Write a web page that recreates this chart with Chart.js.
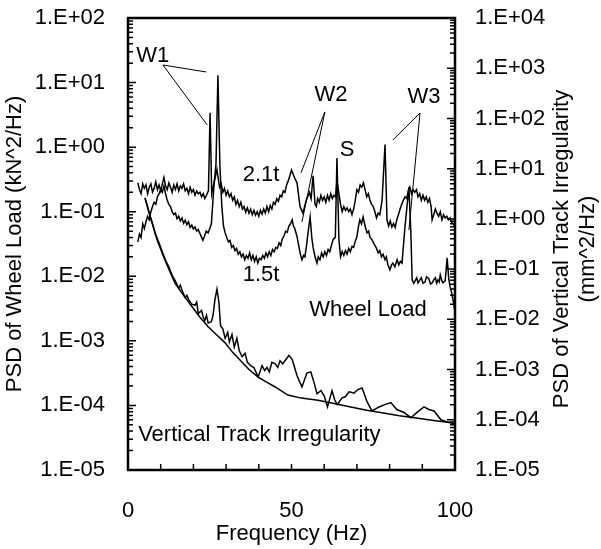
<!DOCTYPE html>
<html>
<head>
<meta charset="utf-8">
<script src="https://cdn.jsdelivr.net/npm/chart.js@4.4.1/dist/chart.umd.min.js"></script>
<style>
  html, body { margin: 0; padding: 0; background: #fff; }
  #wrap { width: 601px; height: 549px; }
</style>
</head>
<body>
<div id="wrap"><canvas id="psdChart"></canvas></div>
<script>
// ---- data, [frequency Hz, PSD] ----
// wheel load PSD, 2.1t axle load (kN^2/Hz, left axis)
const wheel21 = [[3,0.28],[3.5,0.22],[4,0.19],[4.5,0.27],[5,0.23],[5.5,0.26],[6,0.19],[6.5,0.24],[7,0.27],[7.5,0.20],[8,0.23],[8.5,0.29],[9,0.22],[9.5,0.26],[10,0.21],[10.5,0.27],[11,0.34],[11.5,0.25],[12,0.22],[12.5,0.28],[13,0.24],[13.5,0.20],[14,0.26],[14.5,0.22],[15,0.27],[15.5,0.21],[16,0.25],[16.5,0.23],[17,0.27],[17.5,0.21],[18,0.23],[18.5,0.19],[19,0.24],[19.5,0.20],[20,0.22],[20.5,0.18],[21,0.21],[21.5,0.19],[22,0.20],[22.5,0.17],[23,0.19],[23.5,0.16],[24,0.18],[24.6,0.21],[25.1,3.4],[25.6,0.19],[26.3,0.28],[27.2,0.45],[28,0.24],[28.5,0.27],[29,0.20],[29.5,0.23],[30,0.18],[30.5,0.21],[31,0.17],[31.5,0.19],[32,0.15],[32.5,0.17],[33,0.13],[33.5,0.15],[34,0.12],[34.5,0.14],[35,0.11],[35.5,0.12],[36,0.098],[36.5,0.115],[37,0.095],[37.5,0.11],[38,0.09],[38.5,0.105],[39,0.088],[39.5,0.10],[40,0.085],[40.5,0.105],[41,0.092],[41.5,0.11],[42,0.095],[42.5,0.12],[43,0.10],[43.5,0.125],[44,0.11],[44.5,0.14],[45,0.13],[45.5,0.16],[46,0.145],[46.5,0.18],[47,0.17],[47.5,0.21],[48,0.20],[48.5,0.26],[49,0.30],[49.5,0.36],[50,0.44],[50.5,0.38],[51,0.33],[51.7,0.28],[52.6,0.12],[53.5,0.095],[54.5,0.15],[55.5,0.20],[56,0.16],[56.6,0.36],[57.2,0.13],[57.6,0.12],[58,0.16],[58.5,0.14],[59,0.18],[59.5,0.15],[60,0.17],[60.5,0.14],[61,0.18],[61.5,0.15],[62,0.19],[62.5,0.16],[63,0.18],[63.5,0.17],[63.9,0.30],[64.5,0.19],[65,0.13],[65.5,0.10],[66,0.12],[66.5,0.105],[67,0.115],[67.5,0.10],[68,0.11],[68.5,0.09],[69,0.11],[69.5,0.15],[70,0.22],[70.5,0.20],[71,0.26],[71.5,0.24],[72,0.28],[72.5,0.22],[73,0.17],[73.5,0.19],[74,0.15],[74.5,0.13],[75,0.12],[75.5,0.10],[76,0.08],[76.5,0.095],[77,0.09],[77.7,0.15],[78.6,1.1],[79.2,0.075],[79.7,0.06],[80.2,0.072],[80.7,0.058],[81.2,0.066],[81.7,0.057],[82.2,0.075],[82.7,0.09],[83.2,0.11],[83.7,0.13],[84.2,0.15],[84.7,0.17],[85.2,0.16],[85.7,0.21],[86.2,0.24],[86.7,0.19],[87.2,0.22],[87.7,0.20],[88.2,0.22],[88.7,0.17],[89.2,0.19],[89.7,0.15],[90.2,0.18],[90.7,0.15],[91.2,0.17],[91.7,0.14],[92.2,0.16],[92.7,0.12],[93,0.075],[93.5,0.09],[94,0.11],[94.5,0.095],[95,0.085],[95.5,0.10],[96,0.075],[96.5,0.09],[97,0.08],[97.5,0.085],[98,0.075],[98.5,0.08],[99,0.068],[99.5,0.065],[100,0.058]];

// wheel load PSD, 1.5t axle load (kN^2/Hz, left axis)
const wheel15 = [[3,0.034],[3.5,0.045],[4,0.04],[4.5,0.065],[5,0.055],[5.5,0.07],[6,0.085],[6.5,0.075],[7,0.10],[7.5,0.12],[8,0.14],[8.5,0.13],[9,0.17],[9.5,0.19],[10,0.22],[10.5,0.20],[11,0.25],[11.5,0.19],[12,0.15],[12.5,0.13],[13,0.12],[13.5,0.10],[14,0.09],[14.5,0.095],[15,0.078],[15.5,0.085],[16,0.072],[16.5,0.08],[17,0.066],[17.5,0.074],[18,0.063],[18.5,0.07],[19,0.057],[19.5,0.062],[20,0.054],[20.5,0.058],[21,0.05],[21.5,0.053],[22,0.046],[22.5,0.04],[22.9,0.036],[23.4,0.042],[23.9,0.05],[24.5,0.047],[25,0.055],[25.5,0.065],[26.3,0.26],[26.9,0.53],[27.5,13],[28.1,0.53],[28.7,0.12],[29.2,0.06],[29.7,0.047],[30.2,0.04],[30.7,0.034],[31.2,0.036],[31.7,0.028],[32.2,0.03],[32.7,0.025],[33.2,0.027],[33.7,0.022],[34.2,0.024],[34.7,0.02],[35.2,0.022],[35.7,0.018],[36.2,0.021],[36.7,0.019],[37.2,0.023],[37.7,0.018],[38.2,0.021],[38.7,0.017],[39.2,0.02],[39.7,0.016],[40.2,0.019],[40.7,0.018],[41.2,0.021],[41.7,0.019],[42.2,0.023],[42.7,0.02],[43.2,0.024],[43.7,0.021],[44.2,0.026],[44.7,0.024],[45.2,0.028],[45.7,0.027],[46.2,0.033],[46.7,0.03],[47.2,0.038],[47.7,0.042],[48.2,0.05],[48.7,0.048],[49.2,0.06],[49.7,0.065],[50.2,0.075],[50.6,0.06],[51,0.055],[51.7,0.041],[52.2,0.03],[52.7,0.022],[53.2,0.018],[53.7,0.021],[54.1,0.02],[54.6,0.03],[55,0.045],[55.7,0.083],[56.2,0.04],[56.6,0.028],[57.2,0.02],[57.8,0.016],[58.2,0.02],[58.7,0.018],[59.2,0.023],[59.7,0.02],[60.2,0.024],[60.7,0.021],[61.2,0.026],[61.7,0.024],[62.2,0.03],[62.7,0.037],[63.4,0.04],[63.9,0.68],[64.5,0.037],[65,0.02],[65.5,0.024],[66,0.021],[66.5,0.025],[67,0.022],[67.5,0.027],[68,0.024],[68.5,0.029],[69,0.028],[69.5,0.035],[70,0.041],[70.5,0.06],[70.9,0.075],[71.4,0.065],[71.9,0.083],[72.5,0.06],[73.1,0.047],[73.6,0.05],[74,0.04],[74.6,0.037],[75.1,0.033],[75.5,0.03],[76,0.027],[76.5,0.023],[77,0.025],[77.5,0.02],[78,0.022],[78.6,0.018],[79,0.02],[79.5,0.015],[80.1,0.0126],[80.6,0.015],[81,0.016],[81.6,0.014],[82.3,0.018],[82.8,0.015],[83.3,0.017],[83.8,0.016],[84.7,0.058],[85.9,0.24],[86.5,0.047],[86.9,0.0088],[87.4,0.0078],[87.8,0.0085],[88.3,0.0095],[88.7,0.0079],[89.2,0.0087],[89.7,0.0095],[90.2,0.0078],[90.8,0.0081],[91.3,0.0098],[92,0.0092],[92.5,0.0076],[93,0.0079],[93.5,0.0088],[94,0.0095],[94.4,0.0078],[94.8,0.0088],[95.2,0.0082],[95.5,0.0105],[96,0.0085],[96.3,0.0079],[97,0.0085],[97.6,0.0193],[98.1,0.009],[98.5,0.0069],[99,0.0055],[99.4,0.0043],[100,0.0028]];

// vertical track irregularity PSD, fitted curve (mm^2/Hz, right axis)
const trackFit = [[5.2,2.6],[7,1.0],[8.9,0.38],[11.5,0.14],[14.4,0.052],[17,0.03],[19.6,0.0178],[22,0.011],[24.5,0.0071],[27,0.005],[29.7,0.0034],[32,0.0022],[34.9,0.0014],[37,0.001],[39.8,0.00071],[42,0.00058],[45,0.00045],[48.9,0.00031],[53,0.00027],[58.1,0.000245],[63,0.00021],[68.5,0.000178],[73,0.000155],[78.6,0.000135],[83,0.00012],[88.7,0.000107],[94,0.000096],[99.1,0.000087]];

// vertical track irregularity PSD, measured (mm^2/Hz, right axis)
const trackMeas = [[5.2,2.6],[6.5,1.3],[7.5,0.8],[8.5,0.48],[9.5,0.33],[10.5,0.22],[11.5,0.15],[12.5,0.11],[13,0.09],[13.5,0.075],[14.5,0.058],[15.5,0.042],[16,0.048],[16.5,0.038],[17.5,0.027],[18,0.03],[18.5,0.025],[19.5,0.02],[20.5,0.019],[21,0.022],[21.5,0.013],[22.5,0.015],[23,0.011],[23.5,0.0095],[24,0.012],[24.5,0.0085],[25.5,0.009],[26,0.012],[26.6,0.025],[27.2,0.040],[27.8,0.022],[28.3,0.0075],[29,0.0065],[29.7,0.0042],[30.5,0.0055],[31,0.0035],[31.8,0.005],[32.5,0.0028],[33.3,0.0042],[34,0.0024],[34.9,0.0018],[35.8,0.0021],[36.5,0.0014],[37.5,0.0012],[38.5,0.0011],[39.8,0.00071],[41,0.0012],[41.8,0.00095],[42.5,0.0011],[43.2,0.0009],[44,0.0014],[45,0.0013],[45.8,0.0011],[46.5,0.0015],[47.3,0.0013],[48,0.0015],[49.2,0.0019],[50.2,0.0016],[51.7,0.00075],[53.2,0.00045],[54.7,0.00085],[55.9,0.0009],[56.9,0.00055],[57.8,0.00033],[59,0.00038],[60,0.0003],[61,0.00018],[62.4,0.00038],[63.2,0.00025],[64,0.0002],[65.4,0.00027],[66.5,0.00029],[67.6,0.00036],[69.1,0.00034],[70.3,0.0004],[71.6,0.00043],[73.1,0.00023],[74.6,0.00015],[76.8,0.00018],[78.5,0.0002],[80.4,0.00022],[82.2,0.00016],[84.4,0.00014],[86.5,0.00011],[88.4,0.00014],[90.5,0.00018],[92,0.00016],[93.6,0.00015],[95.7,0.0001],[97.6,0.00009],[100,0.000083]];

// axis ticks
const leftTicks = [1e-5,1e-4,1e-3,1e-2,1e-1,1,10,100];
const rightTicks = [1e-5,1e-4,1e-3,1e-2,1e-1,1,10,100,1000,10000];
const xTicks = [0,10,20,30,40,50,60,70,80,90,100];
const xLabels = [0,50,100];

// text labels on the plot: [text, freq, wheel-load value, align]
const notes = [
  ['W1', 7.6, 25.8, 'center'],
  ['W2', 62.1, 6.43, 'center'],
  ['W3', 90.5, 5.98, 'center'],
  ['S', 67.0, 0.906, 'center'],
  ['2.1t', 40.7, 0.372, 'center'],
  ['1.5t', 40.7, 0.0105, 'center'],
  ['Wheel Load', 73.4, 0.0030, 'center'],
  ['Vertical Track Irregularity', 3.1, 3.5e-5, 'left']
];
// leader lines: apex then end points, in (freq, wheel-load value)
const leaders = [
  [[10.7, 18.7], [23.9, 14.6], [24.2, 2.21]],
  [[60.2, 3.51], [52.9, 0.40], [53.2, 0.0695]],
  [[89.3, 3.38], [81.0, 1.29], [85.9, 0.052]]
];

const FONT = 'Liberation Sans, Arial, sans-serif';
const FS = 22;

function sciLabel(v) {
  const e = Math.round(Math.log10(v));
  return '1.E' + (e < 0 ? '-' : '+') + String(Math.abs(e)).padStart(2, '0');
}

function pts(pairs) {
  return pairs.map(p => ({ x: p[0], y: p[1] }));
}

// fixed axis box, and no label padding pushing the plot down
function fixVertical(width) {
  return s => { s.width = width; s.paddingTop = 10; s.paddingBottom = 10; };
}

// frame, inward ticks, notes, right axis title
const decorPlugin = {
  id: 'decor',
  afterDraw(chart) {
    const ctx = chart.ctx;
    const a = chart.chartArea;
    const xs = chart.scales.x, yl = chart.scales.y, yr = chart.scales.y2;
    ctx.save();
    ctx.strokeStyle = '#000';
    ctx.fillStyle = '#000';

    // tick marks
    ctx.lineWidth = 1.5;
    ctx.beginPath();
    xTicks.forEach(v => {
      const px = xs.getPixelForValue(v);
      ctx.moveTo(px, a.bottom);
      ctx.lineTo(px, a.bottom - 6);
    });
    const logTicks = (scale, side) => {
      const lo = Math.round(Math.log10(scale.min)), hi = Math.round(Math.log10(scale.max));
      for (let e = lo; e < hi; e++) {
        for (let m = 1; m < 10; m++) {
          const py = scale.getPixelForValue(m * Math.pow(10, e));
          const len = m === 1 ? 8 : 5;
          if (side === 'left') { ctx.moveTo(a.left, py); ctx.lineTo(a.left + len, py); }
          else { ctx.moveTo(a.right, py); ctx.lineTo(a.right - len, py); }
        }
      }
    };
    logTicks(yl, 'left');
    logTicks(yr, 'right');
    ctx.stroke();

    // frame
    ctx.lineWidth = 2.5;
    ctx.strokeRect(a.left, a.top, a.right - a.left, a.bottom - a.top);

    // leader lines
    ctx.lineWidth = 1;
    ctx.beginPath();
    leaders.forEach(l => {
      const ax = xs.getPixelForValue(l[0][0]), ay = yl.getPixelForValue(l[0][1]);
      for (let i = 1; i < l.length; i++) {
        ctx.moveTo(ax, ay);
        ctx.lineTo(xs.getPixelForValue(l[i][0]), yl.getPixelForValue(l[i][1]));
      }
    });
    ctx.stroke();

    // notes
    ctx.font = FS + 'px ' + FONT;
    ctx.textBaseline = 'middle';
    notes.forEach(n => {
      ctx.textAlign = n[3];
      ctx.fillText(n[0], xs.getPixelForValue(n[1]), yl.getPixelForValue(n[2]));
    });

    // right axis title, reading bottom to top
    ctx.translate(562, 249);
    ctx.rotate(-Math.PI / 2);
    ctx.textAlign = 'center';
    ctx.fillText('PSD of Vertical Track Irregularity', 0, 0);
    ctx.fillText('(mm^2/Hz)', 0, 26);
    ctx.restore();
  }
};

const lineStyle = {
  borderColor: '#000',
  borderWidth: 1.5,
  pointRadius: 0,
  fill: false,
  tension: 0
};

new Chart(document.getElementById('psdChart'), {
  type: 'line',
  data: {
    datasets: [
      { ...lineStyle, label: '2.1t', data: pts(wheel21), yAxisID: 'y' },
      { ...lineStyle, label: '1.5t', data: pts(wheel15), yAxisID: 'y' },
      { ...lineStyle, label: 'Track fit', data: pts(trackFit), yAxisID: 'y2' },
      { ...lineStyle, label: 'Track measured', data: pts(trackMeas), yAxisID: 'y2' }
    ]
  },
  options: {
    responsive: true,
    maintainAspectRatio: false,
    animation: false,
    layout: { padding: { top: 18, left: 0, right: 0, bottom: 0 } },
    plugins: { legend: { display: false }, tooltip: { enabled: false } },
    scales: {
      x: {
        type: 'linear', min: 0, max: 100,
        afterBuildTicks: s => { s.ticks = xTicks.map(v => ({ value: v })); },
        afterFit: s => { s.height = 79; },
        grid: { display: false, drawTicks: false },
        border: { display: false },
        ticks: {
          padding: 28, color: '#000', font: { family: FONT, size: FS },
          maxRotation: 0, autoSkip: false,
          callback: v => xLabels.includes(v) ? String(v) : ''
        },
        title: { display: true, text: 'Frequency (Hz)', color: '#000', font: { family: FONT, size: FS }, padding: { top: 0, bottom: 2 } }
      },
      y: {
        type: 'logarithmic', position: 'left', min: 1e-5, max: 100,
        afterBuildTicks: s => { s.ticks = leftTicks.map(v => ({ value: v })); },
        afterFit: fixVertical(128),
        grid: { display: false, drawTicks: false },
        border: { display: false },
        ticks: { padding: 23, color: '#000', font: { family: FONT, size: FS }, autoSkip: false, callback: v => sciLabel(v) },
        title: { display: true, text: 'PSD of Wheel Load (kN^2/Hz)', color: '#000', font: { family: FONT, size: FS }, padding: { top: 2, bottom: 0 } }
      },
      y2: {
        type: 'logarithmic', position: 'right', min: 1e-5, max: 1e4,
        afterBuildTicks: s => { s.ticks = rightTicks.map(v => ({ value: v })); },
        afterFit: fixVertical(146),
        grid: { display: false, drawTicks: false },
        border: { display: false },
        ticks: { padding: 20, color: '#000', font: { family: FONT, size: FS }, autoSkip: false, callback: v => sciLabel(v) }
      }
    }
  },
  plugins: [decorPlugin]
});
</script>
</body>
</html>
